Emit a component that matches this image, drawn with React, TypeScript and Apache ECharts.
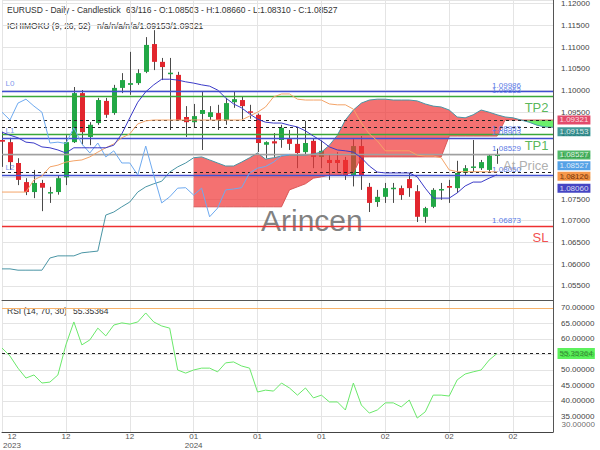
import React, { useEffect, useRef } from 'react';
import * as echarts from 'echarts';

const FONT = '"Liberation Sans", Arial, sans-serif';

// ---- candles (visible 63 bars, Dec 1 2023 .. Feb 27 2024) ----
const opens = [1.0886,1.0881,1.0833,1.0789,1.0766,1.0787,1.0764,1.0766,1.0800,1.0881,
1.0994,1.0893,1.0925,1.0976,1.0948,1.1006,1.1013,1.1017,1.1043,1.1107,
1.1066,1.1038,1.1036,1.0939,1.0927,1.0946,1.0939,1.0948,1.0932,1.0973,
1.0978,1.0952,1.0944,1.0875,1.0883,1.0886,1.0890,1.0877,1.0858,1.0884,
1.0847,1.0840,1.0840,1.0840,1.0805,1.0872,1.0778,1.0743,1.0755,1.0775,
1.0775,1.0796,1.0768,1.0709,1.0732,1.0771,1.0780,1.0775,1.0810,1.0822,
1.0821,1.0817,1.08503];
const highs = [1.0905,1.0891,1.0844,1.0798,1.0817,1.0794,1.0778,1.0805,1.0897,1.1008,
1.1001,1.0927,1.0983,1.0983,1.1013,1.1040,1.1089,1.1049,1.1123,1.1139,
1.1075,1.1075,1.1043,1.0964,1.0969,1.0997,1.0964,1.0967,1.0983,1.0997,
1.0985,1.0967,1.0947,1.0883,1.0902,1.0921,1.0909,1.0914,1.0930,1.0889,
1.0885,1.0851,1.0858,1.0847,1.0888,1.0895,1.0787,1.0771,1.0787,1.0787,
1.0781,1.0810,1.0782,1.0732,1.0775,1.0787,1.0794,1.0838,1.0828,1.0886,
1.0840,1.0852,1.08660];
const lows = [1.0824,1.0817,1.0782,1.0759,1.0752,1.0722,1.0741,1.0760,1.0782,1.0879,
1.0874,1.0874,1.0921,1.0937,1.0944,1.0994,1.0990,1.1013,1.1040,1.1047,
1.1024,1.0909,1.0930,1.0893,1.0914,1.0863,1.0932,1.0909,1.0921,1.0960,
1.0932,1.0935,1.0858,1.0844,1.0847,1.0868,1.0863,1.0821,1.0851,1.0821,
1.0821,1.0794,1.0810,1.0794,1.0779,1.0771,1.0720,1.0732,1.0741,1.0741,
1.0748,1.0755,1.0697,1.0695,1.0729,1.0748,1.0741,1.0764,1.0805,1.0812,
1.0817,1.0812,1.08310];
const closes = [1.0882,1.0835,1.0794,1.0766,1.0787,1.0776,1.0766,1.0798,1.0881,1.0994,
1.0904,1.0921,1.0978,1.0944,1.1006,1.1024,1.1017,1.1040,1.1105,1.1066,
1.1054,1.1041,1.0932,1.0927,1.0941,1.0955,1.0950,1.0932,1.0971,1.0980,
1.0964,1.0950,1.0879,1.0881,1.0878,1.0914,1.0877,1.0856,1.0879,1.0847,
1.0861,1.0833,1.0833,1.0805,1.0872,1.0805,1.0741,1.0755,1.0775,1.0776,
1.0759,1.0775,1.0709,1.0729,1.0771,1.0773,1.0776,1.0810,1.0821,1.0825,
1.0835,1.0850,1.08527];

// ---- Ichimoku lines ----
const tenkan = [1.0904,1.0897,1.0891,1.0881,1.0879,1.0870,1.0868,1.0863,1.0856,1.0868,
1.0868,1.0868,1.0868,1.0868,1.0874,1.0900,1.0937,1.0973,1.0997,1.1013,
1.1026,1.1026,1.1024,1.1020,1.1017,1.1013,1.1010,1.1001,1.0983,1.0969,
1.0960,1.0946,1.0934,1.0927,1.0925,1.0925,1.0920,1.0916,1.0907,1.0895,
1.0884,1.0870,1.0863,1.0861,1.0858,1.0845,1.0826,1.0812,1.0810,1.0810,
1.0810,1.0810,1.0801,1.0775,1.0752,1.0752,1.0752,1.0764,1.0780,1.0789,
1.0789,1.0798,1.08060];
const kijun = [1.0766,1.0766,1.0766,1.0766,1.0794,1.0803,1.0824,1.0828,1.0835,1.0838,
1.0840,1.0847,1.0858,1.0868,1.0877,1.0891,1.0900,1.0923,1.0930,1.0932,
1.0932,1.0932,1.0932,1.0932,1.0932,1.0932,1.0932,1.0932,1.0932,1.0932,
1.0932,1.0941,1.0950,1.0962,1.0985,1.0992,1.0992,1.0980,1.0978,1.0978,
1.0978,1.0969,1.0967,1.0967,1.0957,1.0925,1.0900,1.0884,1.0861,1.0861,
1.0861,1.0861,1.0851,1.0849,1.0849,1.0845,1.0817,1.0813,1.0813,1.0813,
1.0813,1.08126,1.08126];
const spanA = [1.0589,1.0589,1.0586,1.0586,1.0586,1.0586,1.0614,1.0619,1.0619,1.0619,
1.0626,1.0628,1.0630,1.0713,1.0720,1.0732,1.0743,1.0766,1.0778,1.0785,
1.0791,1.0812,1.0824,1.0833,1.0845,1.0847,1.0840,1.0833,1.0826,1.0826,
1.0835,1.0845,1.0856,1.0842,1.0845,1.0849,1.0851,1.0851,1.0851,1.0854,
1.0858,1.0874,1.0897,1.0932,1.0955,1.0971,1.0978,1.0980,1.0980,1.0978,
1.0978,1.0978,1.0976,1.0969,1.0964,1.0962,1.0955,1.0939,1.0937,1.0944,
1.0955,1.0950,1.0944,1.0939,1.0937,1.0932,1.0927,1.0920,1.0916,1.09153];
const spanB = [null,null,null,null,null,null,null,null,null,null,
null,null,null,null,null,null,null,null,null,null,
null,null,null,null,1.0732,1.0732,1.0732,1.0732,1.0732,1.0732,
1.0732,1.0732,1.0732,1.0732,1.0732,1.0732,1.0771,1.0778,1.0785,1.0798,
1.0801,1.0805,1.0805,1.0808,1.0810,1.0847,1.0847,1.0847,1.0847,1.0847,
1.0847,1.0847,1.0847,1.0847,1.0847,1.0847,1.0895,1.0895,1.0895,1.0895,
1.0895,1.0895,1.0895,1.0932,1.0932,1.0932,1.0932,1.0932,1.0932,1.0932];
const chikouShift = 26;

// ---- RSI ----
const rsi = [57.1,54.5,50.6,47.4,48.4,45.8,46.1,48.4,58.1,65.5,
58.1,59.7,63.5,61.0,64.5,65.2,64.8,65.5,68.4,65.5,
64.2,63.5,50.0,49.0,50.0,50.6,50.6,49.4,52.3,52.6,
51.3,50.6,42.9,43.5,43.2,45.8,44.2,41.9,44.2,41.0,
41.9,39.7,39.7,37.1,45.8,38.7,36.1,37.1,39.4,39.4,
38.1,40.3,34.5,36.5,41.9,41.9,41.6,46.8,48.7,49.4,
50.0,53.2,55.35364];
const rsiUpper = 70;
const rsiLower = 30;

// ---- axis ----
const slotCount = 70;
const xTickStep = 8;
const xTickLabels = ['12\n2023', '12', '12', '01\n2024', '01', '01', '02', '02', '02'];

// ---- trade levels ----
const levelNames = ['L0', 'TP2', 'L1', 'TP1', 'At Price', 'L2', 'SL'];
const levelValues = [1.09986, 1.09863, 1.08903, 1.08993, 1.08529, 1.08050, 1.06873];
const dashedLevels = [1.09321, 1.09153, 1.08126];

// ---- right axis tags ----
const tagValues = [1.09321, 1.09153, 1.08527, 1.08527, 1.08126, 1.08060];

// styles
const levelColors = ['#4050d0', '#3aa83a', '#4050d0', '#3aa83a', '#a0a0a0', '#4050d0', '#ee3030'];
const nameColors = ['#5b7be6', '#2ea52e', '#5b7be6', '#2ea52e', '#9a9a9a', '#5b7be6', '#ee2020'];
const tagBg = ['#dc1e46', '#13807f', '#27a844', '#2a8be0', '#f57f1f', '#1616b4'];
const tagFg = ['#ffffff', '#ffffff', '#ffffff', '#ffffff', '#5a2000', '#ffffff'];
const tagDy = [0, 4.5, 0.5, 11.3, 4.5, 13.6];

const RED = 'rgba(240,52,52,0.7)';
const GREEN = 'rgba(70,235,70,0.8)';

function buildOption() {
  const categories = Array.from({ length: slotCount }, (_, i) => String(i));
  const candleData = opens.map((o, i) => [i, o, closes[i], lows[i], highs[i]]);
  const chikou = closes.slice(chikouShift);
  const firstB = spanB.findIndex((v) => v != null);
  const tickInterval = (i: number) => i % xTickStep === 0;

  const lineBase = { type: 'line', symbol: 'none', silent: true, xAxisIndex: 0, yAxisIndex: 0 };

  return {
    animation: false,
    textStyle: { fontFamily: FONT },
    grid: [
      { left: 2, right: 47, top: 0, height: 300, outerBoundsMode: 'none', containLabel: false },
      { left: 2, right: 47, top: 300, height: 132, outerBoundsMode: 'none', containLabel: false },
    ],
    xAxis: [
      {
        type: 'category', gridIndex: 0, data: categories, boundaryGap: false,
        axisLine: { show: true, lineStyle: { color: '#555', width: 1 } },
        axisTick: { show: false }, axisLabel: { show: false },
        splitLine: { show: true, interval: tickInterval, lineStyle: { color: '#e4e4e4' } },
      },
      {
        type: 'category', gridIndex: 1, data: categories, boundaryGap: false,
        axisLine: { show: true, lineStyle: { color: '#444', width: 1 } },
        axisTick: { show: false },
        axisLabel: {
          interval: tickInterval, fontSize: 8, color: '#555', margin: 0, lineHeight: 9,
          hideOverlap: false,
          formatter: (v: string) => {
            const k = Math.round(Number(v) / xTickStep);
            const t = xTickLabels[k] || '';
            if (k === 0) return t.split('\n').map((s) => '{f|' + s + '}').join('\n');
            return t;
          },
          rich: { f: { padding: [0, 0, 0, 20], fontSize: 8, color: '#555', lineHeight: 9 } },
        },
        splitLine: { show: true, interval: tickInterval, lineStyle: { color: '#e4e4e4' } },
      },
    ],
    yAxis: [
      {
        type: 'value', gridIndex: 0, position: 'right', min: 1.05173, max: 1.12085,
        splitNumber: 14, minInterval: 0.005, maxInterval: 0.005,
        axisLine: { show: true, lineStyle: { color: '#555' } }, axisTick: { show: false },
        axisLabel: { fontSize: 8, color: '#444', margin: 8, showMinLabel: false, showMaxLabel: false,
          formatter: (v: number) => v.toFixed(5) },
        splitLine: { show: true, lineStyle: { color: '#e4e4e4' } },
      },
      {
        type: 'value', gridIndex: 1, position: 'right', min: 30, max: 72.58, interval: 5,
        axisLine: { show: true, lineStyle: { color: '#555' } }, axisTick: { show: false },
        axisLabel: { fontSize: 8, color: '#444', margin: 8, showMinLabel: false, showMaxLabel: false,
          formatter: (v: number) => v.toFixed(5) },
        splitLine: { show: true, lineStyle: { color: '#e4e4e4' } },
      },
    ],
    graphic: [
      { type: 'text', left: 7, top: 5, style: { text: 'EURUSD - Daily - Candlestick', fontSize: 8.5, fill: '#333', fontFamily: FONT } },
      { type: 'text', left: 126, top: 5, style: { text: '63/116 - O:1.08503 - H:1.08660 - L:1.08310 - C:1.08527', fontSize: 8.5, fill: '#333', fontFamily: FONT } },
      { type: 'text', left: 7, top: 21, style: { text: 'ICHIMOKU (9, 26, 52)', fontSize: 8.5, fill: '#333', fontFamily: FONT } },
      { type: 'text', left: 97, top: 21, style: { text: 'n/a/n/a/n/a/1.09153/1.09321', fontSize: 8.5, fill: '#333', fontFamily: FONT } },
      { type: 'text', left: 7, top: 306, style: { text: 'RSI (14, 70, 30)', fontSize: 8.5, fill: '#333', fontFamily: FONT } },
      { type: 'text', left: 73, top: 306, style: { text: '55.35364', fontSize: 8.5, fill: '#333', fontFamily: FONT } },
      { type: 'text', left: 261, top: 205, z: 1, style: { text: 'Arincen', fontSize: 30, fill: 'rgba(95,95,95,0.8)', fontFamily: FONT } },
    ],
    series: [
      {
        type: 'custom', name: 'candles', xAxisIndex: 0, yAxisIndex: 0, z: 2, silent: true,
        data: candleData, encode: { x: 0, y: [1, 2, 3, 4] },
        renderItem: (params: any, api: any) => {
          const i = api.value(0);
          const o = api.value(1), c = api.value(2), l = api.value(3), h = api.value(4);
          const pO = api.coord([i, o]), pC = api.coord([i, c]);
          const pL = api.coord([i, l]), pH = api.coord([i, h]);
          const step = api.coord([1, o])[0] - api.coord([0, o])[0];
          const w = Math.max(3, Math.round(step * 0.68));
          const x = Math.round(pO[0]) + 0.5;
          const top = Math.min(pO[1], pC[1]);
          const hgt = Math.max(1.5, Math.abs(pO[1] - pC[1]));
          return {
            type: 'group',
            children: [
              { type: 'line', shape: { x1: x, y1: pH[1], x2: x, y2: pL[1] }, style: { stroke: '#4a4a4a', lineWidth: 1 } },
              { type: 'rect', shape: { x: x - w / 2, y: top, width: w, height: hgt }, style: { fill: c >= o ? '#22a846' : '#e2262e' } },
            ],
          };
        },
      },
      {
        type: 'custom', name: 'cloud', xAxisIndex: 0, yAxisIndex: 0, z: 3, silent: true,
        data: [[firstB, spanA[firstB]]], encode: { x: 0, y: 1 },
        renderItem: (params: any, api: any) => {
          const runs: any[] = [];
          let cur: any = null;
          for (let i = firstB; i < spanA.length; i++) {
            const a = spanA[i], b = spanB[i] as number;
            const s = a >= b ? 1 : -1;
            const PA = api.coord([i, a]), PB = api.coord([i, b]);
            if (!cur) cur = { s, top: [], bot: [] };
            else if (s !== cur.s) {
              const pa = spanA[i - 1], pb = spanB[i - 1] as number;
              const d0 = pa - pb, d1 = a - b;
              const t = d0 / (d0 - d1);
              const QA = api.coord([i - 1, pa]);
              const X = [QA[0] + (PA[0] - QA[0]) * t, QA[1] + (PA[1] - QA[1]) * t];
              cur.top.push(X); cur.bot.push(X);
              runs.push(cur);
              cur = { s, top: [X], bot: [X] };
            }
            cur.top.push(PA); cur.bot.push(PB);
          }
          if (cur) runs.push(cur);
          return {
            type: 'group',
            children: runs.map((r) => ({
              type: 'polygon',
              shape: { points: r.top.concat(r.bot.slice().reverse()) },
              style: { fill: r.s > 0 ? RED : GREEN },
            })),
          };
        },
      },
      { ...lineBase, name: 'spanB', z: 4, data: spanB, lineStyle: { color: 'rgba(215,80,80,0.9)', width: 1 } },
      { ...lineBase, name: 'spanA', z: 4, data: spanA, lineStyle: { color: '#4a95a5', width: 1 } },
      { ...lineBase, name: 'chikou', z: 5, data: chikou, lineStyle: { color: '#6eaaf0', width: 1 } },
      { ...lineBase, name: 'kijun', z: 5, data: kijun, lineStyle: { color: '#f4a468', width: 1 } },
      { ...lineBase, name: 'tenkan', z: 5, data: tenkan, lineStyle: { color: '#3b3bc8', width: 1 } },
      {
        type: 'scatter', name: 'levels', xAxisIndex: 0, yAxisIndex: 0, z: 6, silent: true,
        symbolSize: 1, itemStyle: { color: 'rgba(0,0,0,0)' },
        data: levelNames.map((n, k) => {
          const left = /^L\d/.test(n);
          return {
            value: [left ? 0 : slotCount - 1, levelValues[k]],
            label: left
              ? { show: true, formatter: n, position: 'right', distance: 3, offset: [0, -8], fontSize: 8, color: nameColors[k] }
              : { show: true, formatter: n, position: 'left', distance: 4, offset: [0, 11], fontSize: 13, color: nameColors[k] },
          };
        }),
        markLine: {
          silent: true, symbol: ['none', 'none'], animation: false, precision: 5,
          data: [
            ...levelValues.map((v, k) => ({
              yAxis: v,
              lineStyle: { color: levelColors[k], width: 1.3, type: 'solid' },
              label: { show: true, position: 'insideEndTop', formatter: v.toFixed(5), color: '#5b7be6', fontSize: 8, distance: 2, padding: [0, 30, 0, 0] },
            })),
            ...dashedLevels.map((v) => ({
              yAxis: v,
              lineStyle: { color: '#222', width: 1, type: [3, 3] },
              label: { show: false },
            })),
          ],
        },
      },
      {
        type: 'scatter', name: 'tags', xAxisIndex: 0, yAxisIndex: 0, z: 10, silent: true,
        symbolSize: 1, itemStyle: { color: 'rgba(0,0,0,0)' },
        data: tagValues.map((v, k) => ({
          value: [slotCount - 1, v],
          label: { show: true, position: 'right', distance: 4, offset: [0, tagDy[k]], formatter: v.toFixed(5),
            backgroundColor: tagBg[k], color: tagFg[k], fontSize: 8, lineHeight: 9, padding: [0, 2, 0, 2] },
        })),
      },
      {
        type: 'line', name: 'rsi', xAxisIndex: 1, yAxisIndex: 1, symbol: 'none', silent: true, z: 5,
        data: rsi, lineStyle: { color: '#6ae86a', width: 1 },
        markLine: {
          silent: true, symbol: ['none', 'none'], animation: false, precision: 5, label: { show: false },
          data: [
            { yAxis: rsiUpper, lineStyle: { color: '#f6b26b', width: 1.2, type: 'solid' } },
            { yAxis: rsi[rsi.length - 1], lineStyle: { color: '#222', width: 1, type: [3, 3] } },
          ],
        },
      },
      {
        type: 'scatter', name: 'rsiTag', xAxisIndex: 1, yAxisIndex: 1, z: 10, silent: true,
        symbolSize: 1, itemStyle: { color: 'rgba(0,0,0,0)' },
        data: [
          {
            value: [slotCount - 1, rsi[rsi.length - 1]],
            label: { show: true, position: 'right', distance: 4, formatter: rsi[rsi.length - 1].toFixed(5),
              backgroundColor: '#34ee34', color: '#2e6a2e', fontSize: 8, lineHeight: 9, padding: [1, 2, 1, 2] },
          },
          {
            value: [slotCount - 1, rsiLower],
            label: { show: true, position: 'right', distance: 8, offset: [0, -8], formatter: rsiLower.toFixed(5),
              color: '#444', fontSize: 8 },
          },
        ],
      },
    ],
  };
}

export default function App() {
  const ref = useRef<HTMLDivElement>(null);
  useEffect(() => {
    document.body.style.margin = '0';
    const chart = echarts.init(ref.current as HTMLDivElement, null, { renderer: 'svg' });
    chart.setOption(buildOption() as any);
    return () => chart.dispose();
  }, []);
  return <div ref={ref} style={{ width: 600, height: 450 }} />;
}
